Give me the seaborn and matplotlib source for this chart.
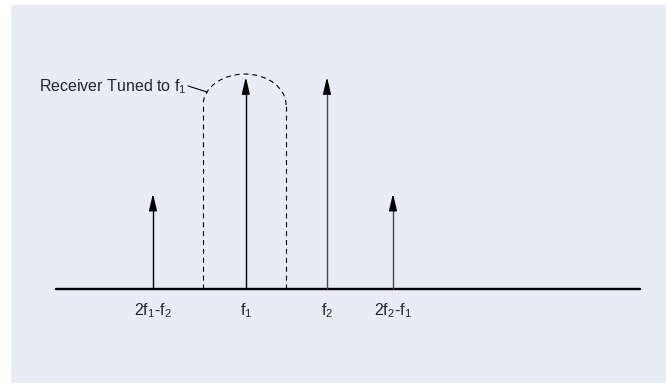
import matplotlib
matplotlib.use("Agg")
import matplotlib.pyplot as plt
from matplotlib.patches import Arc, Rectangle
import seaborn as sns

# tones: position on the frequency axis (0..100) and relative amplitude
tone_labels = [r"$\mathrm{2f_1}$-$\mathrm{f_2}$", r"$\mathrm{f_1}$",
               r"$\mathrm{f_2}$", r"$\mathrm{2f_2}$-$\mathrm{f_1}$"]
tone_freqs = [16.6, 32.5, 46.4, 57.7]
tone_amps = [0.45, 1.0, 1.0, 0.45]
shaft_colors = ["black", "black", "#4a4a4a", "#4a4a4a"]

# receiver passband (dashed outline)
band_left = 25.2
band_right = 39.4
band_shoulder = 0.868
band_top = 1.014
band_label = r"Receiver Tuned to $\mathrm{f_1}$"

sns.set_theme(style="white")
plt.rcParams["font.family"] = ["Liberation Sans", "DejaVu Sans"]
plt.rcParams["mathtext.fontset"] = "custom"
plt.rcParams["mathtext.rm"] = "Liberation Sans"
plt.rcParams["mathtext.it"] = "Liberation Sans:italic"

fig = plt.figure(figsize=(6.66, 3.87), dpi=100, facecolor="white")
fig.patches.append(Rectangle((11 / 666, 4 / 387), 1 - 11 / 666, 378 / 387,
                             transform=fig.transFigure, facecolor="#E8ECF6",
                             edgecolor="none", zorder=-10))

ax = fig.add_axes([56 / 666, 98 / 387, 584 / 666, 212 / 387])
ax.set_xlim(0, 100)
ax.set_ylim(0, 1)
ax.set_facecolor("none")
ax.axis("off")

# baseline
ax.axhline(0, color="black", lw=1.7, clip_on=False)

# tones: shaft + black head
ax.vlines(tone_freqs, 0, [a - 0.03 for a in tone_amps], colors=shaft_colors,
          lw=1.0, clip_on=False)
for f, a, lab in zip(tone_freqs, tone_amps, tone_labels):
    ax.annotate("", xy=(f, a), xytext=(f, a - 0.06),
                arrowprops=dict(arrowstyle="-|>,head_length=0.85,head_width=0.2",
                                color="black", lw=1.0, shrinkA=0, shrinkB=0),
                annotation_clip=False)
    ax.text(f, -0.123, lab, ha="center", va="baseline", fontsize=11.5)

# passband
dash = (0, (4.5, 3.5))
ax.vlines([band_left, band_right], 0, band_shoulder, colors="black",
          lw=0.8, linestyles=[dash], clip_on=False)
ax.add_patch(Arc(((band_left + band_right) / 2, band_shoulder),
                 band_right - band_left, 2 * (band_top - band_shoulder),
                 theta1=0, theta2=180, color="black", lw=0.8,
                 linestyle=dash, clip_on=False))

ax.text(-2.9, 0.934, band_label, ha="left", va="baseline", fontsize=11.5)
ax.plot([22.6, 25.9], [0.958, 0.929], color="black", lw=0.8, clip_on=False)

fig.savefig("out.png", dpi=100, facecolor="white")
